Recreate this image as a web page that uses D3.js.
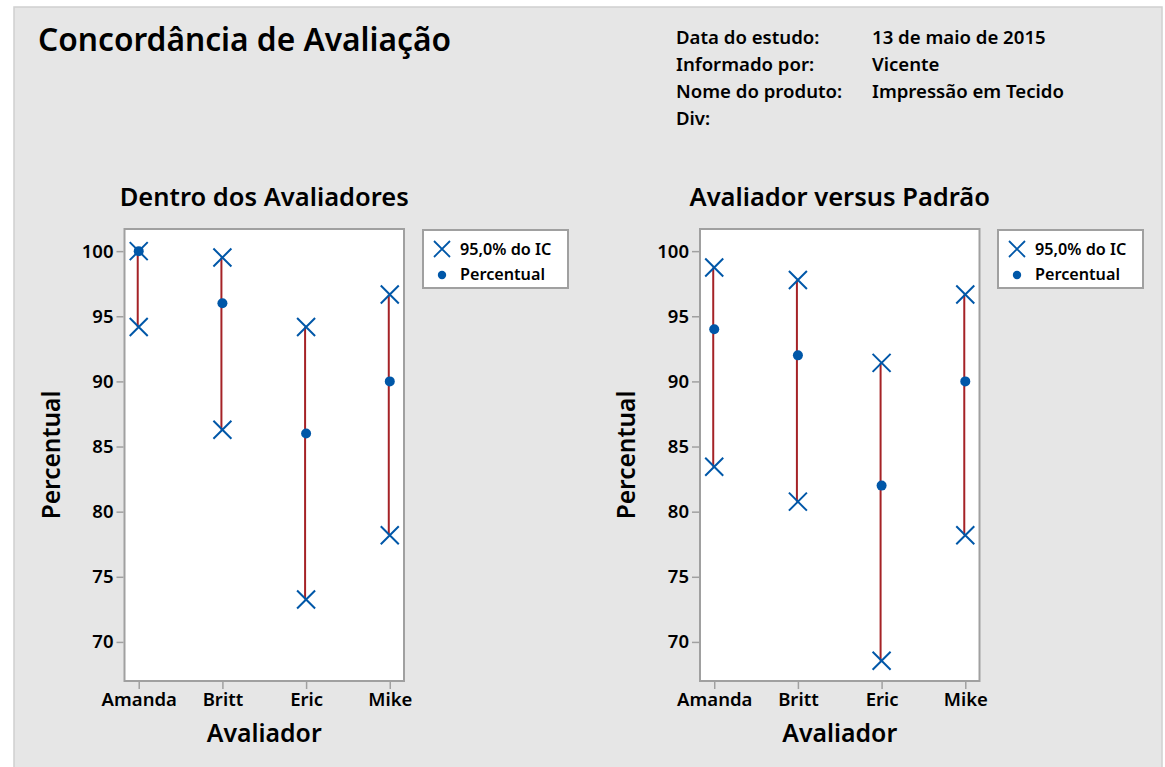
<!DOCTYPE html>
<html>
<head>
<meta charset="utf-8">
<script src="https://cdn.jsdelivr.net/npm/d3@7"></script>
<style>
  html, body { margin: 0; padding: 0; background: #ffffff; }
  svg { display: block; }
  text { font-family: "Segoe UI", "Noto Sans", "Open Sans", sans-serif; font-weight: 600; fill: #000; }
</style>
</head>
<body>
<svg id="chart" width="1165" height="767"></svg>
<script>
// ---- data ----
const appraisers = ["Amanda", "Britt", "Eric", "Mike"];
// Dentro dos Avaliadores (within appraisers)
const withinPct   = [100, 96, 86, 90];
const withinLower = [94.18, 86.29, 73.26, 78.19];
const withinUpper = [100.00, 99.51, 94.18, 96.67];
// Avaliador versus Padrão (appraiser vs standard)
const vsStdPct   = [94, 92, 82, 90];
const vsStdLower = [83.45, 80.77, 68.56, 78.19];
const vsStdUpper = [98.75, 97.78, 91.42, 96.67];
const yTicks = [70, 75, 80, 85, 90, 95, 100];
const headerLabels = ["Data do estudo:", "Informado por:", "Nome do produto:", "Div:"];
const headerValues = ["13 de maio de 2015", "Vicente", "Impressão em Tecido", ""];
const legendLabels = ["95,0% do IC", "Percentual"];

// ---- styles ----
const BLUE = "#0057a8";
const RED = "#a52226";
const FRAME = "#a0a0a0";

const svg = d3.select("#chart");

// background panel
svg.append("rect").attr("x", 14).attr("y", 7).attr("width", 1148).attr("height", 770)
  .attr("fill", "#e6e6e6").attr("stroke", "#d0d0d0").attr("stroke-width", 1.5);

// title
svg.append("text").attr("x", 38).attr("y", 51).attr("font-size", 31.7).text("Concordância de Avaliação");

// header info
const hy = [44, 71, 98, 125];
headerLabels.forEach((t, i) => {
  svg.append("text").attr("x", 676).attr("y", hy[i]).attr("font-size", 18.6).text(t);
  svg.append("text").attr("x", 872).attr("y", hy[i]).attr("font-size", 18.6).text(headerValues[i]);
});

function xMarker(g, cx, cy, h, w) {
  g.append("path")
    .attr("d", `M${cx - h},${cy - h}L${cx + h},${cy + h}M${cx - h},${cy + h}L${cx + h},${cy - h}`)
    .attr("stroke", BLUE).attr("stroke-width", w).attr("fill", "none");
}

function panel(opts) {
  const { x0, x1, y0, y1, title, pct, lower, upper, legendX } = opts;
  const g = svg.append("g");
  const x = d3.scalePoint().domain(appraisers).range([x0, x1]).padding(0.17);
  const y = d3.scaleLinear().domain([67.0, 101.7]).range([y1, y0]);

  g.append("rect").attr("x", x0).attr("y", y0).attr("width", x1 - x0).attr("height", y1 - y0)
    .attr("fill", "#ffffff").attr("stroke", FRAME).attr("stroke-width", 2);

  // y axis
  const ya = g.append("g").attr("transform", `translate(${x0 - 1},0)`)
    .call(d3.axisLeft(y).tickValues(yTicks).tickSize(7).tickPadding(3));
  ya.select(".domain").remove();
  ya.selectAll("line").attr("stroke", FRAME).attr("stroke-width", 1.5);
  ya.selectAll("text").attr("font-size", 18.5).attr("font-family", null).attr("fill", "#000");

  // x axis
  const xa = g.append("g").attr("transform", `translate(0,${y1 + 1})`)
    .call(d3.axisBottom(x).tickSize(7).tickPadding(4));
  xa.select(".domain").remove();
  xa.selectAll("line").attr("stroke", FRAME).attr("stroke-width", 1.5);
  xa.selectAll("text").attr("font-size", 18.5).attr("font-family", null).attr("fill", "#000");

  // intervals
  appraisers.forEach((a, i) => {
    const cx = x(a);
    g.append("line").attr("x1", cx - 1).attr("x2", cx - 1)
      .attr("y1", y(lower[i])).attr("y2", y(upper[i]))
      .attr("stroke", RED).attr("stroke-width", 2);
    xMarker(g, cx, y(lower[i]), 9, 2);
    xMarker(g, cx, y(upper[i]), 9, 2);
    g.append("circle").attr("cx", cx).attr("cy", y(pct[i])).attr("r", 5).attr("fill", BLUE);
  });

  // titles
  const mid = (x0 + x1) / 2;
  svg.append("text").attr("x", mid).attr("y", 206).attr("font-size", 25.5)
    .attr("text-anchor", "middle").text(title);
  svg.append("text").attr("x", mid).attr("y", 742).attr("font-size", 24.8)
    .attr("text-anchor", "middle").text("Avaliador");
  svg.append("text").attr("transform", `translate(${x0 - 65},${(y0 + y1) / 2}) rotate(-90)`)
    .attr("font-size", 24.5).attr("text-anchor", "middle").text("Percentual");

  // legend
  const lg = svg.append("g");
  lg.append("rect").attr("x", legendX).attr("y", 230).attr("width", 145).attr("height", 58)
    .attr("fill", "#ffffff").attr("stroke", FRAME).attr("stroke-width", 2);
  xMarker(lg, legendX + 19, 249, 8, 1.8);
  lg.append("circle").attr("cx", legendX + 19).attr("cy", 275).attr("r", 4.2).attr("fill", BLUE);
  lg.append("text").attr("x", legendX + 37).attr("y", 255).attr("font-size", 16.2).text(legendLabels[0]);
  lg.append("text").attr("x", legendX + 37).attr("y", 280).attr("font-size", 16.2).text(legendLabels[1]);
}

panel({ x0: 124.5, x1: 404, y0: 229, y1: 681, title: "Dentro dos Avaliadores",
  pct: withinPct, lower: withinLower, upper: withinUpper, legendX: 423 });
panel({ x0: 700, x1: 979.5, y0: 229, y1: 681, title: "Avaliador versus Padrão",
  pct: vsStdPct, lower: vsStdLower, upper: vsStdUpper, legendX: 998 });
</script>
</body>
</html>
